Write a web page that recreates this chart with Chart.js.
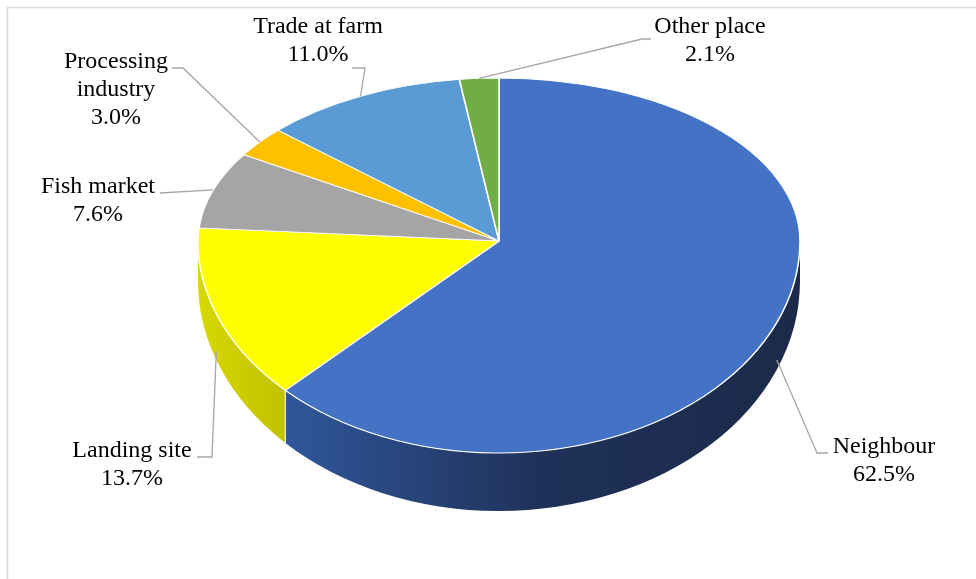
<!DOCTYPE html>
<html>
<head>
<meta charset="utf-8">
<script src="https://cdn.jsdelivr.net/npm/chart.js@4.4.1/dist/chart.umd.min.js"></script>
<style>
  html, body { margin: 0; padding: 0; background: #fff; }
  #wrap { width: 976px; height: 579px; }
</style>
</head>
<body>
<div id="wrap"><canvas id="pieChart" width="976" height="579"></canvas></div>
<script>
const categories = ['Neighbour', 'Landing site', 'Fish market', 'Processing industry', 'Trade at farm', 'Other place'];
const shares = [62.5, 13.7, 7.6, 3.0, 11.0, 2.1];
const sliceColors = ['#4472C4', '#FFFF00', '#A5A5A5', '#FFC000', '#5B9BD5', '#70AD47'];
// left -> mid -> right shade of the visible rim
const rimShades = [
  ['#30569b', '#1f3158', '#1b2a4a'],
  ['#d8d800', '#cccc00', '#c2c200'],
  ['#8a8a8a', '#7a7a7a', '#6e6e6e'],
  ['#d9a300', '#c99700', '#b88a00'],
  ['#4a86c0', '#3f76ab', '#376898'],
  ['#5e9a3b', '#548a35', '#4b7c2f']
];
const wrapped = { 'Processing industry': ['Processing', 'industry'] };

// where Excel put each label (centre x, first baseline) and the bend of its leader line
const labelLayout = [
  { x: 884, y: 453, bend: [[817, 453], [828, 453]] },
  { x: 132, y: 457, bend: [[212, 457], [197, 457]] },
  { x: 98, y: 193, bend: [[160, 193]] },
  { x: 116, y: 68, bend: [[183, 68], [172, 68]] },
  { x: 318, y: 33, bend: [[365, 68], [352, 68]] },
  { x: 710, y: 33, bend: [[642, 39], [651, 39]] }
];

// tilted disc: back half is flatter than the front (perspective)
const disc = { cx: 499, cy: 241, rx: 301, ryBack: 163, ryFront: 212, depth: 40, ryBottom: 230 };

const topPoint = (a) => {
  const s = Math.sin(a);
  return [disc.cx + disc.rx * Math.cos(a), disc.cy + (s > 0 ? disc.ryFront : disc.ryBack) * s];
};
const bottomPoint = (a) => [disc.cx + disc.rx * Math.cos(a), disc.cy + disc.depth + disc.ryBottom * Math.sin(a)];

function squash(chart, front) {
  const ctx = chart.ctx;
  const arc = chart.getDatasetMeta(0).data[0];
  ctx.save();
  ctx.beginPath();
  if (front) ctx.rect(0, disc.cy, chart.width, chart.height - disc.cy);
  else ctx.rect(0, 0, chart.width, disc.cy);
  ctx.clip();
  ctx.translate(disc.cx, disc.cy);
  ctx.scale(disc.rx / arc.outerRadius, (front ? disc.ryFront : disc.ryBack) / arc.outerRadius);
  ctx.translate(-arc.x, -arc.y);
}

const pie3dPlugin = {
  id: 'pie3d',
  beforeDatasetsDraw(chart) {
    const ctx = chart.ctx;
    const arcs = chart.getDatasetMeta(0).data;
    // rim of the front half
    arcs.forEach((arc, i) => {
      const a0 = Math.max(arc.startAngle, 0);
      const a1 = Math.min(arc.endAngle, Math.PI);
      if (a1 <= a0) return;
      const xl = disc.cx + disc.rx * Math.cos(a1);
      const xr = disc.cx + disc.rx * Math.cos(a0);
      const g = ctx.createLinearGradient(xl, 0, xr, 0);
      g.addColorStop(0, rimShades[i][0]);
      g.addColorStop(0.5, rimShades[i][1]);
      g.addColorStop(1, rimShades[i][2]);
      ctx.beginPath();
      ctx.ellipse(disc.cx, disc.cy, disc.rx, disc.ryFront, 0, a0, a1);
      ctx.ellipse(disc.cx, disc.cy + disc.depth, disc.rx, disc.ryBottom, 0, a1, a0, true);
      ctx.closePath();
      ctx.fillStyle = g;
      ctx.fill();
      if (a0 > 0) {
        const p = topPoint(a0), q = bottomPoint(a0);
        ctx.beginPath();
        ctx.moveTo(p[0], p[1]);
        ctx.lineTo(q[0], q[1]);
        ctx.strokeStyle = 'rgba(255,255,255,0.85)';
        ctx.lineWidth = 1.2;
        ctx.stroke();
      }
    });
    squash(chart, false);
  },
  afterDatasetsDraw(chart) {
    const ctx = chart.ctx;
    const meta = chart.getDatasetMeta(0);
    ctx.restore();
    squash(chart, true);
    meta.controller.draw();
    ctx.restore();

    // data labels with leader lines
    meta.data.forEach((arc, i) => {
      const mid = (arc.startAngle + arc.endAngle) / 2;
      let start = topPoint(mid);
      if (Math.sin(mid) > 0) {
        const b = bottomPoint(mid);
        start = [start[0], start[1] + (b[1] - start[1]) * 0.8];
      }
      const lay = labelLayout[i];
      ctx.beginPath();
      ctx.moveTo(start[0], start[1]);
      lay.bend.forEach(p => ctx.lineTo(p[0], p[1]));
      ctx.strokeStyle = '#a6a6a6';
      ctx.lineWidth = 1.3;
      ctx.stroke();

      const lines = (wrapped[categories[i]] || [categories[i]]).concat(shares[i].toFixed(1) + '%');
      ctx.fillStyle = '#000';
      ctx.font = '24px "Liberation Serif", "Times New Roman", serif';
      ctx.textAlign = 'center';
      ctx.textBaseline = 'alphabetic';
      lines.forEach((t, k) => ctx.fillText(t, lay.x, lay.y + k * 28));
    });
  },
  afterDraw(chart) {
    const ctx = chart.ctx;
    ctx.save();
    ctx.strokeStyle = '#d9d9d9';
    ctx.lineWidth = 1.5;
    ctx.strokeRect(7.5, 7.5, 1200, 1200);
    ctx.restore();
  }
};

new Chart(document.getElementById('pieChart'), {
  type: 'pie',
  data: {
    labels: categories,
    datasets: [{
      data: shares,
      backgroundColor: sliceColors,
      borderColor: '#ffffff',
      borderWidth: 1.5
    }]
  },
  options: {
    responsive: false,
    animation: false,
    rotation: 0,
    plugins: {
      legend: { display: false },
      tooltip: { enabled: false }
    }
  },
  plugins: [pie3dPlugin]
});
</script>
</body>
</html>
